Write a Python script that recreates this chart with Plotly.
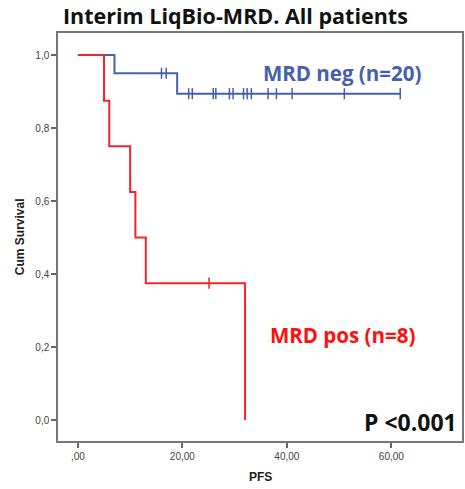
import plotly.graph_objects as go

# Data
red_times = [0, 5, 6, 10, 11, 13, 32]
red_surv = [1.0, 0.875, 0.75, 0.625, 0.5, 0.375, 0.0]
red_censor = [25.1]

blue_times = [0, 7, 19, 61.7]
blue_surv = [1.0, 0.95, 0.894, 0.894]
blue_censor = [16.0, 16.9, 21.2, 21.9, 25.9, 26.4, 29.0, 29.7, 31.7, 32.4, 33.2,
               36.4, 38.0, 41.0, 51.0, 61.7]

x_tickvals = [0, 20, 40, 60]
x_ticktext = [",00", "20,00", "40,00", "60,00"]
y_tickvals = [0, 0.2, 0.4, 0.6, 0.8, 1.0]
y_ticktext = ["0,0", "0,2", "0,4", "0,6", "0,8", "1,0"]

RED = "#f2242c"
BLUE = "#4561ad"


def step_at(times, surv, t):
    s = surv[0]
    for tt, ss in zip(times, surv):
        if tt <= t:
            s = ss
    return s


fig = go.Figure()
fig.add_trace(go.Scatter(x=blue_times, y=blue_surv, mode="lines", line_shape="hv",
                         line=dict(color=BLUE, width=2), hoverinfo="skip"))
fig.add_trace(go.Scatter(x=blue_censor, y=[step_at(blue_times, blue_surv, t) for t in blue_censor],
                         mode="markers",
                         marker=dict(symbol="line-ns-open", size=8, color=BLUE,
                                     line=dict(color=BLUE, width=1.5)),
                         hoverinfo="skip"))
fig.add_trace(go.Scatter(x=red_times, y=red_surv, mode="lines", line_shape="hv",
                         line=dict(color=RED, width=2), hoverinfo="skip"))
fig.add_trace(go.Scatter(x=red_censor, y=[step_at(red_times, red_surv, t) for t in red_censor],
                         mode="markers",
                         marker=dict(symbol="line-ns-open", size=8, color=RED,
                                     line=dict(color=RED, width=1.5)),
                         hoverinfo="skip"))

fig.update_layout(
    width=465, height=489,
    margin=dict(l=58, r=1, t=33, b=48),
    paper_bgcolor="white", plot_bgcolor="white",
    showlegend=False,
    font=dict(family="Arial, Liberation Sans", color="#444"),
)
fig.update_xaxes(range=[-3.81, 73.52], tickvals=x_tickvals, ticktext=x_ticktext,
                 showgrid=False, zeroline=False, showline=True, mirror=True,
                 linecolor="#777", linewidth=1.5, ticks="outside", ticklen=5,
                 tickcolor="#666", tickwidth=1.5, tickfont=dict(size=10, color="#444"))
fig.update_yaxes(range=[-0.0575, 1.0603], tickvals=y_tickvals, ticktext=y_ticktext,
                 showgrid=False, zeroline=False, showline=True, mirror=True,
                 linecolor="#777", linewidth=1.5, ticks="outside", ticklen=5,
                 tickcolor="#666", tickwidth=1.5, tickfont=dict(size=10, color="#444"))

ann = [
    dict(text="<b>Interim LiqBio-MRD. All patients</b>", x=236, y=16,
         font=dict(size=21.5, color="#111", family="Open Sans")),
    dict(text="<b>MRD neg (n=20)</b>", x=343, y=73,
         font=dict(size=20.5, color=BLUE, family="Open Sans")),
    dict(text="<b>MRD pos (n=8)</b>", x=344, y=335,
         font=dict(size=20.5, color="#ff1010", family="Open Sans")),
    dict(text="<b>P <0.001</b>", x=412, y=422,
         font=dict(size=23, color="#111", family="Open Sans")),
    dict(text="<b>PFS</b>", x=262, y=477,
         font=dict(size=12, color="#222", family="Arial, Liberation Sans")),
    dict(text="<b>Cum Survival</b>", x=20, y=237, textangle=-90,
         font=dict(size=12, color="#222", family="Arial, Liberation Sans")),
]
for a in ann:
    fig.add_annotation(xref="paper", yref="paper", showarrow=False,
                       xanchor="center", yanchor="middle",
                       x=(a["x"] - 58) / (464 - 58), y=(441 - a["y"]) / (441 - 33),
                       text=a["text"], font=a["font"], textangle=a.get("textangle", 0))

fig.write_html("out.html", config={"displayModeBar": False},
               post_script="document.body.style.margin='0';document.body.style.padding='0';")
